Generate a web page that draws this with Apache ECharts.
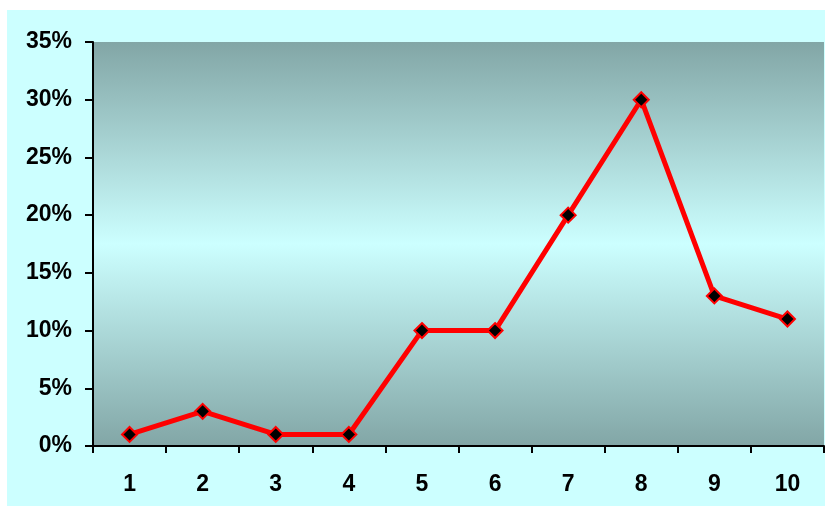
<!DOCTYPE html>
<html>
<head>
<meta charset="utf-8">
<script src="https://cdn.jsdelivr.net/npm/echarts@6/dist/echarts.min.js"></script>
<style>
  html, body { margin: 0; padding: 0; background: #ffffff; }
  #chart { width: 826px; height: 508px; }
</style>
</head>
<body>
<div id="chart"></div>
<script>
// Categories along the x axis and the share (in percent) for each one
const categories = ['1', '2', '3', '4', '5', '6', '7', '8', '9', '10'];
const shares = [1, 3, 1, 1, 10, 10, 20, 30, 13, 11];
// Y axis range and step, in percent
const yMin = 0;
const yMax = 35;
const yStep = 5;

const chart = echarts.init(document.getElementById('chart'), null, { renderer: 'canvas' });

const labelFont = {
  fontFamily: '"Liberation Sans", Arial, sans-serif',
  fontWeight: 'bold',
  fontSize: 23,
  color: '#000000'
};

chart.setOption({
  animation: false,
  backgroundColor: '#ffffff',
  graphic: [{
    type: 'rect',
    z: -10,
    silent: true,
    shape: { x: 7, y: 10, width: 818, height: 496 },
    style: { fill: '#ccffff' }
  }],
  grid: {
    left: 93,
    right: 2,
    top: 42,
    bottom: 62,
    show: true,
    borderWidth: 0,
    backgroundColor: new echarts.graphic.LinearGradient(0, 0, 0, 1, [
      { offset: 0, color: '#82a6a6' },
      { offset: 0.5, color: '#ccffff' },
      { offset: 1, color: '#82a6a6' }
    ])
  },
  xAxis: {
    type: 'category',
    data: categories,
    boundaryGap: true,
    axisLine: { show: true, lineStyle: { color: '#000000', width: 2 } },
    axisTick: { show: true, inside: false, length: 7, alignWithLabel: false, lineStyle: { color: '#000000', width: 2 } },
    axisLabel: Object.assign({ margin: 27 }, labelFont),
    splitLine: { show: false }
  },
  yAxis: {
    type: 'value',
    min: yMin,
    max: yMax,
    interval: yStep,
    axisLine: { show: true, lineStyle: { color: '#000000', width: 2 } },
    axisTick: { show: true, inside: false, length: 8, lineStyle: { color: '#000000', width: 2 } },
    axisLabel: Object.assign({ margin: 21, padding: [5, 0, 0, 0], formatter: '{value}%' }, labelFont),
    splitLine: { show: false }
  },
  series: [{
    type: 'line',
    data: shares,
    symbol: 'diamond',
    symbolSize: 15,
    showAllSymbol: true,
    lineStyle: { color: '#ff0000', width: 5 },
    itemStyle: { color: '#000000', borderColor: '#ff0000', borderWidth: 2 }
  }]
});
</script>
</body>
</html>
